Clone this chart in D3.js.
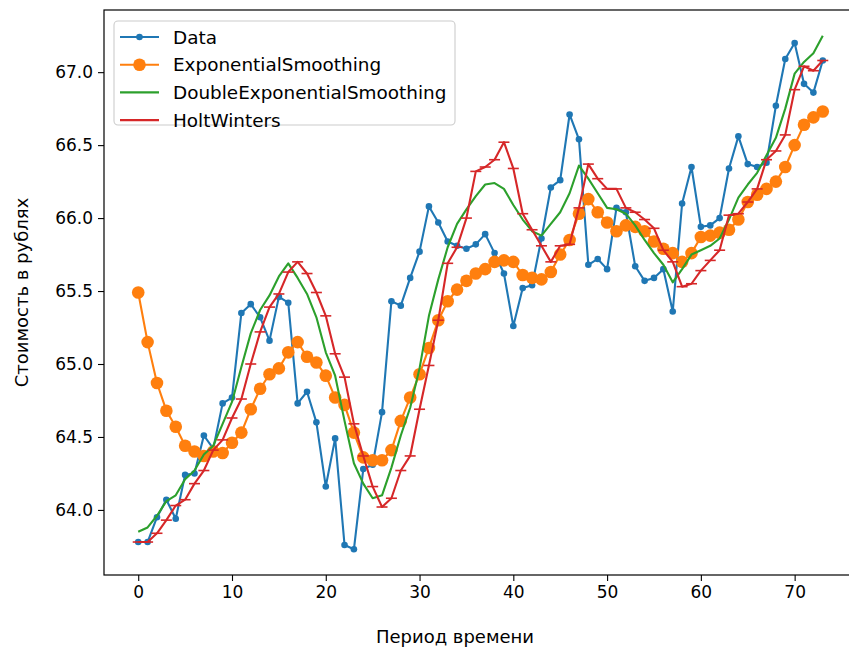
<!DOCTYPE html>
<html>
<head>
<meta charset="utf-8">
<script src="https://cdn.jsdelivr.net/npm/d3@7/dist/d3.min.js"></script>
<style>
  html, body { margin: 0; padding: 0; background: #fff; }
  svg { display: block; }
  text { font-family: "DejaVu Sans", sans-serif; fill: #000; }
</style>
</head>
<body>
<svg id="chart" width="849" height="648"></svg>
<script>
// Observed prices and the three smoothed series, one value per period
const periods = d3.range(0, 74);
const dataSeries = [63.78,63.78,63.95,64.07,63.94,64.24,64.25,64.51,64.42,64.73,
  64.77,65.35,65.41,65.32,65.16,65.46,65.42,64.73,64.81,64.60,
  64.16,64.49,63.76,63.73,64.28,64.31,64.67,65.43,65.40,65.59,
  65.77,66.08,65.97,65.84,65.81,65.79,65.82,65.89,65.76,65.62,
  65.26,65.52,65.54,65.86,66.21,66.26,66.71,66.54,65.68,65.72,
  65.65,66.07,66.04,65.67,65.57,65.59,65.65,65.36,66.10,66.35,
  65.94,65.95,66.00,66.34,66.56,66.37,66.35,66.38,66.77,67.09,
  67.20,66.92,66.86,67.08];
const expSmoothing = [65.49,65.15,64.87,64.68,64.57,64.44,64.40,64.37,64.40,64.39,
  64.46,64.53,64.69,64.83,64.93,64.97,65.08,65.15,65.05,65.01,
  64.92,64.77,64.72,64.53,64.36,64.34,64.34,64.41,64.61,64.77,
  64.93,65.11,65.30,65.43,65.51,65.57,65.62,65.65,65.70,65.71,
  65.70,65.61,65.59,65.58,65.63,65.75,65.85,66.03,66.13,66.04,
  65.97,65.91,65.95,65.94,65.91,65.84,65.79,65.76,65.70,65.76,
  65.87,65.88,65.90,65.92,65.99,66.11,66.16,66.20,66.25,66.35,
  66.50,66.64,66.69,66.73];
const doubleExpSmoothing = [63.85,63.88,63.96,64.06,64.10,64.21,64.27,64.38,64.44,64.59,
  64.74,64.98,65.21,65.37,65.47,65.60,65.69,65.59,65.48,65.32,
  65.08,64.92,64.61,64.32,64.18,64.08,64.10,64.29,64.51,64.70,
  64.97,65.33,65.58,65.80,65.96,66.06,66.15,66.23,66.24,66.20,
  66.09,65.99,65.91,65.88,65.96,66.04,66.17,66.36,66.27,66.17,
  66.07,66.06,66.03,65.95,65.85,65.76,65.68,65.56,65.65,65.75,
  65.78,65.81,65.86,65.99,66.14,66.23,66.31,66.43,66.55,66.75,
  66.99,67.07,67.13,67.25];
const holtWinters = [63.78,63.78,63.84,63.93,64.03,64.07,64.18,64.27,64.41,64.48,
  64.63,64.76,65.00,65.22,65.39,65.48,65.63,65.70,65.62,65.49,
  65.33,65.07,64.91,64.59,64.37,64.16,64.02,64.08,64.27,64.37,
  64.69,64.99,65.30,65.69,65.80,66.00,66.32,66.35,66.40,66.52,
  66.34,66.03,65.92,65.81,65.70,65.81,65.82,66.07,66.37,66.27,
  66.20,66.20,66.07,66.04,65.99,65.93,65.78,65.70,65.53,65.55,
  65.64,65.71,65.78,66.02,66.03,66.11,66.20,66.40,66.46,66.57,
  66.88,67.04,67.01,67.08];

const seriesNames = ["Data", "ExponentialSmoothing", "DoubleExponentialSmoothing", "HoltWinters"];
const seriesColors = ["#1f77b4", "#ff7f0e", "#2ca02c", "#d62728"];
const xTicks = [0, 10, 20, 30, 40, 50, 60, 70];
const yTicks = [64.0, 64.5, 65.0, 65.5, 66.0, 66.5, 67.0];
const xLabel = "Период времени";
const yLabel = "Стоимость в рублях";

const allSeries = [dataSeries, expSmoothing, doubleExpSmoothing, holtWinters];
const tickFont = 17;
const labelFont = 18;
const legendFont = 18.4;

const svg = d3.select("#chart");
const plot = { left: 104, top: 10, right: 857, bottom: 575 };

// Axis limits padded by 5% like the usual autoscale
const xMin = d3.min(periods), xMax = d3.max(periods);
const xPad = (xMax - xMin) * 0.05;
const yMin = d3.min(allSeries, s => d3.min(s)), yMax = d3.max(allSeries, s => d3.max(s));
const yPad = (yMax - yMin) * 0.05;

const x = d3.scaleLinear().domain([xMin - xPad, xMax + xPad]).range([plot.left, plot.right]);
const y = d3.scaleLinear().domain([yMin - yPad, yMax + yPad]).range([plot.bottom, plot.top]);

svg.append("rect").attr("width", 849).attr("height", 648).attr("fill", "#fff");

svg.append("clipPath").attr("id", "plotClip")
  .append("rect")
  .attr("x", plot.left).attr("y", plot.top)
  .attr("width", plot.right - plot.left).attr("height", plot.bottom - plot.top);

const g = svg.append("g").attr("clip-path", "url(#plotClip)");

const line = d3.line().x((d, i) => x(periods[i])).y(d => y(d));

// Data: line with small dots
g.append("path").datum(dataSeries)
  .attr("d", line).attr("fill", "none")
  .attr("stroke", seriesColors[0]).attr("stroke-width", 2.1).attr("stroke-linejoin", "round");
g.selectAll(".dot0").data(dataSeries).enter().append("circle")
  .attr("cx", (d, i) => x(periods[i])).attr("cy", d => y(d)).attr("r", 3.3)
  .attr("fill", seriesColors[0]);

// Exponential smoothing: line with large round markers
g.append("path").datum(expSmoothing)
  .attr("d", line).attr("fill", "none")
  .attr("stroke", seriesColors[1]).attr("stroke-width", 2.1).attr("stroke-linejoin", "round");
g.selectAll(".dot1").data(expSmoothing).enter().append("circle")
  .attr("cx", (d, i) => x(periods[i])).attr("cy", d => y(d)).attr("r", 6.3)
  .attr("fill", seriesColors[1]);

// Double exponential smoothing: plain line
g.append("path").datum(doubleExpSmoothing)
  .attr("d", line).attr("fill", "none")
  .attr("stroke", seriesColors[2]).attr("stroke-width", 2.1).attr("stroke-linejoin", "round");

// Holt-Winters: line with horizontal dash markers
g.append("path").datum(holtWinters)
  .attr("d", line).attr("fill", "none")
  .attr("stroke", seriesColors[3]).attr("stroke-width", 2.1).attr("stroke-linejoin", "round");
g.selectAll(".dash3").data(holtWinters).enter().append("line")
  .attr("x1", (d, i) => x(periods[i]) - 5.5).attr("x2", (d, i) => x(periods[i]) + 5.5)
  .attr("y1", d => y(d)).attr("y2", d => y(d))
  .attr("stroke", seriesColors[3]).attr("stroke-width", 1.6);

// Axes
const xAxis = d3.axisBottom(x).tickValues(xTicks).tickSize(6).tickPadding(5).tickFormat(d3.format("d"));
const yAxis = d3.axisLeft(y).tickValues(yTicks).tickSize(6).tickPadding(5).tickFormat(d3.format(".1f"));

const gx = svg.append("g").attr("transform", `translate(0,${plot.bottom})`).call(xAxis);
const gy = svg.append("g").attr("transform", `translate(${plot.left},0)`).call(yAxis);
[gx, gy].forEach(a => {
  a.select(".domain").remove();
  a.selectAll(".tick line").attr("stroke", "#000").attr("stroke-width", 1.1);
  a.selectAll(".tick text").attr("font-size", tickFont).attr("fill", "#000")
    .attr("font-family", "DejaVu Sans, sans-serif");
});

// Frame
svg.append("rect")
  .attr("x", plot.left).attr("y", plot.top)
  .attr("width", plot.right - plot.left).attr("height", plot.bottom - plot.top)
  .attr("fill", "none").attr("stroke", "#000").attr("stroke-width", 1.2);

// Axis titles
svg.append("text").attr("x", 455).attr("y", 643).attr("text-anchor", "middle")
  .attr("font-size", labelFont).text(xLabel);
svg.append("text").attr("transform", `translate(28,${(plot.top + plot.bottom) / 2}) rotate(-90)`)
  .attr("text-anchor", "middle").attr("font-size", labelFont).text(yLabel);

// Legend
const legend = svg.append("g");
legend.append("rect").attr("x", 114).attr("y", 21).attr("width", 341).attr("height", 104)
  .attr("rx", 4).attr("fill", "#fff").attr("fill-opacity", 0.8)
  .attr("stroke", "#cccccc").attr("stroke-width", 1.1);
seriesNames.forEach((name, i) => {
  const cy = 37 + i * 27.7;
  const item = legend.append("g");
  item.append("line").attr("x1", 120).attr("x2", 159).attr("y1", cy).attr("y2", cy)
    .attr("stroke", seriesColors[i]).attr("stroke-width", 2.1);
  if (i === 0) item.append("circle").attr("cx", 139.5).attr("cy", cy).attr("r", 3.3).attr("fill", seriesColors[i]);
  if (i === 1) item.append("circle").attr("cx", 139.5).attr("cy", cy).attr("r", 6.3).attr("fill", seriesColors[i]);
  if (i === 3) item.append("line").attr("x1", 134).attr("x2", 145).attr("y1", cy).attr("y2", cy)
    .attr("stroke", seriesColors[i]).attr("stroke-width", 1.6);
  item.append("text").attr("x", 173).attr("y", cy).attr("dy", "0.36em")
    .attr("font-size", legendFont).text(name);
});
</script>
</body>
</html>
